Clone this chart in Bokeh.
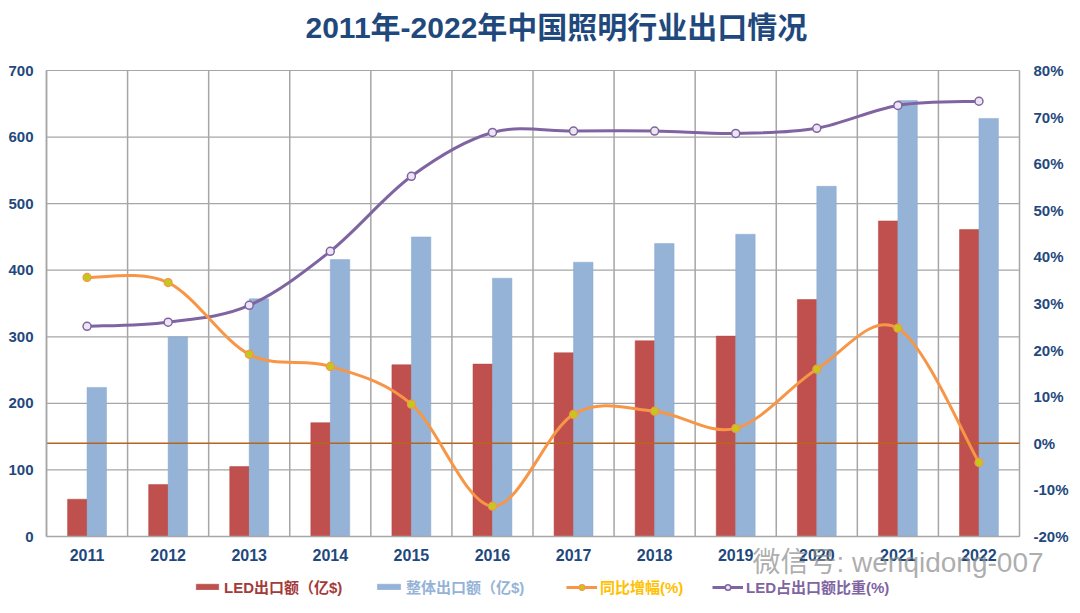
from bokeh.plotting import figure
from bokeh.models import (Range1d, LinearAxis, FixedTicker, Legend,
                          LegendItem, Label, ColumnDataSource)
from bokeh.transform import dodge
from bokeh.embed import file_html
from bokeh.resources import INLINE

# ---------------- data ----------------
years = ["2011", "2012", "2013", "2014", "2015", "2016",
         "2017", "2018", "2019", "2020", "2021", "2022"]
led_export = [56, 78, 105, 171, 258, 259, 276, 294, 301, 356, 474, 461]      # 亿$
total_export = [224, 300, 357, 416, 450, 388, 412, 440, 454, 526, 655, 628]  # 亿$
yoy_growth = [35.6, 34.5, 19.1, 16.5, 8.4, -13.5, 6.2, 6.9, 3.2, 15.9, 24.7, -4.1]  # %
led_share = [25.1, 26.0, 29.6, 41.2, 57.3, 66.7, 67.0, 67.0, 66.5, 67.6, 72.5, 73.4]  # %
left_ticks = [0, 100, 200, 300, 400, 500, 600, 700]
right_ticks = [-20, -10, 0, 10, 20, 30, 40, 50, 60, 70, 80]

title_text = "2011年-2022年中国照明行业出口情况"
lbl_led = "LED出口额（亿$)"
lbl_total = "整体出口额（亿$)"
lbl_yoy = "同比增幅(%)"
lbl_share = "LED占出口额比重(%)"
watermark = "微信号: wenqidong-007"

FONT = "Liberation Sans, Noto Sans CJK SC"
AXIS_BLUE = "#1f497d"
GRID = "#a6a6a6"
ORANGE = "#f79646"
PURPLE = "#8064a2"

# ---------------- layout geometry (canvas pixels) ----------------
W, H = 1072, 600
AX_L, AX_R = 46, 1019      # x pixel of left / right value axes
AX_T, AX_B = 70, 536       # y pixel of the axes' top (700 / 80%) and origin (0 / -20%)

n = len(years)
lo, hi = left_ticks[0], left_ticks[-1]
plo, phi = right_ticks[0], right_ticks[-1]
xl, xr = -0.5, n - 0.5
cat_px = (AX_R - AX_L) / (xr - xl)
ypx = (AX_B - AX_T) / (hi - lo)
ppx = (AX_B - AX_T) / (phi - plo)

xs = list(range(n))

p = figure(width=W, height=H, output_backend="svg", toolbar_location=None,
           x_range=Range1d(xl - AX_L / cat_px, xr + (W - AX_R) / cat_px),
           y_range=Range1d(lo - (H - AX_B) / ypx, hi + AX_T / ypx),
           min_border_left=0, min_border_right=0, min_border_top=0,
           min_border_bottom=0)
p.extra_y_ranges = {"pct": Range1d(plo - (H - AX_B) / ppx, phi + AX_T / ppx)}
p.outline_line_color = None
p.xgrid.grid_line_color = None
p.ygrid.grid_line_color = None

# grid lines restricted to the plotting area
bounds = [i - 0.5 for i in range(n + 1)]
p.segment(x0=bounds, y0=[lo] * len(bounds), x1=bounds, y1=[hi] * len(bounds),
          line_color=GRID, line_width=1.5)
p.segment(x0=[xl] * len(left_ticks), y0=left_ticks, x1=[xr] * len(left_ticks),
          y1=left_ticks, line_color=GRID, line_width=1.2)

# axes (pinned to the plotting area)
p.xaxis.ticker = FixedTicker(ticks=xs)
p.xaxis.major_label_overrides = {i: y for i, y in zip(xs, years)}
p.xaxis.fixed_location = lo
p.xaxis.bounds = (xl, xr)
p.yaxis.ticker = FixedTicker(ticks=left_ticks)
p.yaxis.fixed_location = xl
p.yaxis.bounds = (lo, hi)
for ax in (p.xaxis[0], p.yaxis[0]):
    ax.axis_line_color = GRID
    ax.axis_line_width = 1.5
    ax.major_tick_line_color = None
    ax.minor_tick_line_color = None
    ax.major_tick_out = 0
    ax.major_tick_in = 0
    ax.major_label_text_font = FONT
    ax.major_label_text_font_style = "bold"
    ax.major_label_text_color = AXIS_BLUE
p.xaxis.major_label_text_font_size = "16px"
p.xaxis.major_label_standoff = 12
p.yaxis.major_label_text_font_size = "15px"
p.yaxis.major_label_standoff = 13

ra = LinearAxis(y_range_name="pct", ticker=FixedTicker(ticks=right_ticks),
                bounds=(plo, phi), fixed_location=xr)
ra.major_label_overrides = {t: f"{t}%" for t in right_ticks}
ra.axis_line_color = None
ra.major_tick_line_color = None
ra.minor_tick_line_color = None
ra.major_tick_out = 0
ra.major_tick_in = 0
ra.major_label_text_font = FONT
ra.major_label_text_font_style = "bold"
ra.major_label_text_color = AXIS_BLUE
ra.major_label_text_font_size = "15px"
ra.major_label_standoff = 14
p.add_layout(ra, "right")

# bars
bw = 0.24
src = ColumnDataSource(dict(x=xs, led=led_export, total=total_export,
                            yoy=yoy_growth, share=led_share))
r_led = p.vbar(x=dodge("x", -bw / 2), top="led", bottom=lo, width=bw, source=src,
               fill_color="#c0504d", line_color="#b04845", line_width=0.5)
r_tot = p.vbar(x=dodge("x", bw / 2), top="total", bottom=lo, width=bw, source=src,
               fill_color="#95b3d7", line_color="#8aa9cf", line_width=0.5)

# zero line of the secondary axis, across the plotting area
p.segment(x0=[xl], y0=[0], x1=[xr], y1=[0], line_color="#b5651d",
          line_width=1.5, y_range_name="pct")


# smoothed curves (Catmull-Rom -> cubic Bezier through the data points)
def bezier_source(xv, yv):
    m = len(xv)
    d = dict(x0=[], y0=[], x1=[], y1=[], cx0=[], cy0=[], cx1=[], cy1=[])
    for i in range(m - 1):
        a, b = max(i - 1, 0), min(i + 2, m - 1)
        d["x0"].append(xv[i]); d["y0"].append(yv[i])
        d["x1"].append(xv[i + 1]); d["y1"].append(yv[i + 1])
        d["cx0"].append(xv[i] + (xv[i + 1] - xv[a]) / 6)
        d["cy0"].append(yv[i] + (yv[i + 1] - yv[a]) / 6)
        d["cx1"].append(xv[i + 1] - (xv[b] - xv[i]) / 6)
        d["cy1"].append(yv[i + 1] - (yv[b] - yv[i]) / 6)
    return ColumnDataSource(d)


l_sh = p.bezier(x0="x0", y0="y0", x1="x1", y1="y1", cx0="cx0", cy0="cy0",
                cx1="cx1", cy1="cy1", source=bezier_source(xs, led_share),
                line_color=PURPLE, line_width=3, y_range_name="pct")
l_yoy = p.bezier(x0="x0", y0="y0", x1="x1", y1="y1", cx0="cx0", cy0="cy0",
                 cx1="cx1", cy1="cy1", source=bezier_source(xs, yoy_growth),
                 line_color=ORANGE, line_width=3, y_range_name="pct")
m_sh = p.scatter(x="x", y="share", source=src, size=8, fill_color="#ece6f4",
                 line_color=PURPLE, line_width=1.5, y_range_name="pct")
m_yoy = p.scatter(x="x", y="yoy", source=src, size=8, fill_color="#c3c81e",
                  line_color=ORANGE, line_width=1.2, y_range_name="pct")

legend_specs = [
    (lbl_led, [r_led], "#a33b39", 193, 28, 7),
    (lbl_total, [r_tot], "#95b3d7", 374, 29, 7),
    (lbl_yoy, [l_yoy, m_yoy], "#ffc000", 566, 31, 14),
    (lbl_share, [l_sh, m_sh], PURPLE, 712, 31, 14),
]
for label, rends, color, lx, gw, gh in legend_specs:
    leg = Legend(items=[LegendItem(label=label, renderers=rends)],
                 location=(lx, 3), orientation="horizontal",
                 glyph_width=gw, glyph_height=gh, label_height=14,
                 label_standoff=3, padding=0, margin=0, spacing=0,
                 label_text_font=FONT, label_text_font_size="15px",
                 label_text_font_style="bold", label_text_color=color,
                 background_fill_alpha=0, border_line_color=None)
    p.add_layout(leg, "center")

# title (placed above the plotting area)
p.add_layout(Label(x=xl + (305 - AX_L) / cat_px, y=hi + (AX_T - 27) / ypx,
                   text=title_text, text_font=FONT, text_font_size="30px",
                   text_font_style="bold", text_color="#1f497d",
                   text_baseline="middle"))

# watermark
p.add_layout(Label(x=xl + (752 - AX_L) / cat_px, y=lo - (562 - AX_B) / ypx,
                   text=watermark, text_font=FONT, text_font_size="28px",
                   text_color="#8a8a8a", text_alpha=0.7,
                   text_baseline="middle"))

open("out.html", "w").write(file_html(p, INLINE))
